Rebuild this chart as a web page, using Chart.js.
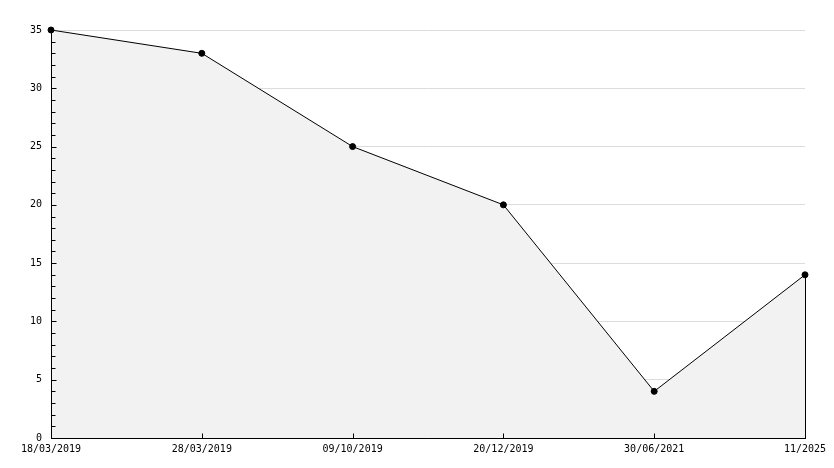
<!DOCTYPE html>
<html>
<head>
<meta charset="utf-8">
<script src="https://cdn.jsdelivr.net/npm/chart.js@4"></script>
<style>
  html, body { margin: 0; padding: 0; background: #fff; }
  #wrap { width: 834px; height: 468px; }
</style>
</head>
<body>
<div id="wrap"><canvas id="chart" width="834" height="468"></canvas></div>
<script>
// --- data ---
const dates = ['18/03/2019', '28/03/2019', '09/10/2019', '20/12/2019', '30/06/2021', '11/2025'];
const values = [35, 33, 25, 20, 4, 14];
const yMax = 35;
const yStep = 5;

// axis lines, small ticks inside the plot + right edge of the filled area
const extraTicks = {
  id: 'extraTicks',
  afterDatasetsDraw(chart) {
    const { ctx, chartArea, scales } = chart;
    const y = scales.y, x = scales.x;
    const left = Math.round(chartArea.left) + 0.5;
    const bottom = Math.round(chartArea.bottom) + 0.5;
    ctx.save();
    ctx.strokeStyle = '#000';
    ctx.lineWidth = 1;
    ctx.beginPath();
    // axes drawn again on top of the fill
    ctx.moveTo(left, chartArea.top);
    ctx.lineTo(left, bottom);
    ctx.lineTo(chartArea.right, bottom);
    for (let v = 1; v < yMax; v++) {
      const py = Math.round(y.getPixelForValue(v)) + 0.5;
      const len = v % yStep === 0 ? 5 : 4;
      ctx.moveTo(left, py);
      ctx.lineTo(left + len, py);
    }
    for (let i = 1; i < dates.length - 1; i++) {
      const px = Math.round(x.getPixelForValue(i)) + 0.5;
      ctx.moveTo(px, bottom);
      ctx.lineTo(px, bottom - 5);
    }
    // closing edge of the fill on the right
    const last = values.length - 1;
    const lx = Math.round(x.getPixelForValue(last)) + 0.5;
    ctx.moveTo(lx, y.getPixelForValue(values[last]));
    ctx.lineTo(lx, bottom);
    ctx.stroke();
    ctx.restore();
  }
};

new Chart(document.getElementById('chart').getContext('2d'), {
  type: 'line',
  data: {
    labels: dates,
    datasets: [{
      data: values,
      borderColor: '#000',
      borderWidth: 1,
      backgroundColor: '#f2f2f2',
      fill: 'origin',
      tension: 0,
      pointRadius: 3,
      pointBackgroundColor: '#000',
      pointBorderColor: '#000',
      pointBorderWidth: 1,
      clip: 6
    }]
  },
  options: {
    responsive: false,
    animation: false,
    events: [],
    layout: { padding: { top: 30, right: 29, left: 0, bottom: 0 } },
    plugins: { legend: { display: false }, tooltip: { enabled: false } },
    scales: {
      x: {
        offset: false,
        grid: { display: false, drawTicks: false },
        border: { color: '#000', width: 1 },
        ticks: {
          color: '#000',
          font: { family: 'DejaVu Sans Mono', size: 10 },
          padding: 5,
          maxRotation: 0,
          autoSkip: false
        },
        afterFit(s) { s.height = 30; }
      },
      y: {
        min: 0,
        max: yMax,
        grid: { color: '#dcdcdc', drawTicks: false },
        border: { color: '#000', width: 1 },
        ticks: {
          stepSize: yStep,
          color: '#000',
          font: { family: 'DejaVu Sans Mono', size: 10 },
          padding: 9
        },
        afterFit(s) { s.width = 51; }
      }
    }
  },
  plugins: [extraTicks]
});
</script>
</body>
</html>
